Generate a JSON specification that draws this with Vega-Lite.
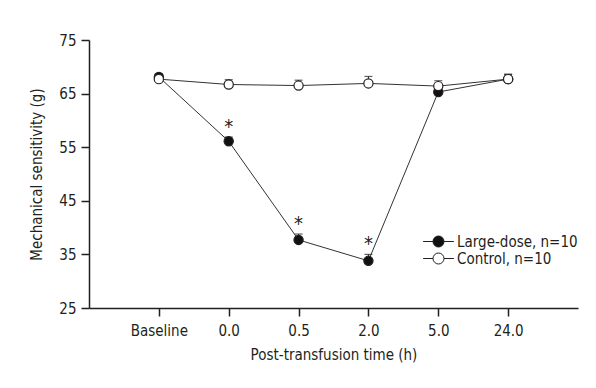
{
  "$schema": "https://vega.github.io/schema/vega-lite/v6.json",
  "autosize": "none",
  "width": 489,
  "height": 268,
  "padding": {"left": 89, "top": 40, "right": 18, "bottom": 80},
  "background": "white",
  "config": {
    "view": {"stroke": null},
    "font": "DejaVu Sans Condensed, Roboto Condensed, Roboto, sans-serif",
    "axis": {"labelFont": "DejaVu Sans Condensed, Roboto Condensed, Roboto, sans-serif", "titleFont": "DejaVu Sans Condensed, Roboto Condensed, Roboto, sans-serif", "labelFontSize": 15, "titleFontSize": 15, "titleFontWeight": "normal", "labelColor": "#231f20", "titleColor": "#231f20", "domainColor": "#231f20", "tickColor": "#231f20", "domainWidth": 1.5, "tickWidth": 1.5, "tickSize": 8, "grid": false},
    "legend": {"labelFont": "DejaVu Sans Condensed, Roboto Condensed, Roboto, sans-serif", "labelFontSize": 15, "labelColor": "#231f20"}
  },
  "data": {"values": [
    {"time": "Baseline", "group": "Large-dose, n=10", "mean": 68.1, "upper": 68.7, "star": ""},
    {"time": "0.0", "group": "Large-dose, n=10", "mean": 56.1, "upper": 56.9, "star": "*"},
    {"time": "0.5", "group": "Large-dose, n=10", "mean": 37.7, "upper": 38.8, "star": "*"},
    {"time": "2.0", "group": "Large-dose, n=10", "mean": 33.8, "upper": 35.0, "star": "*"},
    {"time": "5.0", "group": "Large-dose, n=10", "mean": 65.3, "upper": 66.3, "star": ""},
    {"time": "24.0", "group": "Large-dose, n=10", "mean": 67.7, "upper": 68.6, "star": ""},
    {"time": "Baseline", "group": "Control, n=10", "mean": 67.7, "upper": 68.5, "star": ""},
    {"time": "0.0", "group": "Control, n=10", "mean": 66.7, "upper": 67.6, "star": ""},
    {"time": "0.5", "group": "Control, n=10", "mean": 66.5, "upper": 67.5, "star": ""},
    {"time": "2.0", "group": "Control, n=10", "mean": 66.9, "upper": 68.2, "star": ""},
    {"time": "5.0", "group": "Control, n=10", "mean": 66.4, "upper": 67.4, "star": ""},
    {"time": "24.0", "group": "Control, n=10", "mean": 67.7, "upper": 68.6, "star": ""}
  ]},
  "encoding": {
    "x": {"field": "time", "type": "ordinal", "sort": null, "scale": {"type": "point", "padding": 1},
      "axis": {"title": "Post-transfusion time (h)", "labelAngle": 0, "labelPadding": 7, "titlePadding": 9}}
  },
  "layer": [
    {
      "mark": {"type": "rule", "color": "#231f20", "strokeWidth": 1},
      "encoding": {"y": {"field": "mean", "type": "quantitative"}, "y2": {"field": "upper"}, "detail": {"field": "group"}}
    },
    {
      "mark": {"type": "tick", "orient": "horizontal", "color": "#231f20", "size": 8, "thickness": 1.2},
      "encoding": {"y": {"field": "upper", "type": "quantitative"}}
    },
    {
      "mark": {"type": "line", "color": "#333333", "strokeWidth": 1},
      "encoding": {
        "y": {"field": "mean", "type": "quantitative",
          "scale": {"domain": [25, 75], "nice": false, "zero": false},
          "axis": {"title": "Mechanical sensitivity (g)", "values": [25, 35, 45, 55, 65, 75], "labelPadding": 5, "titlePadding": 14}},
        "detail": {"field": "group"}
      }
    },
    {
      "mark": {"type": "point", "filled": true, "stroke": "#231f20", "strokeWidth": 1.2, "size": 85, "opacity": 1},
      "encoding": {
        "y": {"field": "mean", "type": "quantitative"},
        "fill": {"field": "group", "type": "nominal", "sort": null,
          "scale": {"domain": ["Large-dose, n=10", "Control, n=10"], "range": ["#111111", "#ffffff"]},
          "legend": {"title": null, "orient": "none", "legendX": 342, "legendY": 194,
            "symbolType": "M-2.8,0L-1,0M1,0L2.8,0M-1,0A1,1 0 1,0 1,0A1,1 0 1,0 -1,0Z",
            "symbolSize": 121, "symbolStrokeColor": "#231f20", "symbolStrokeWidth": 1, "symbolOpacity": 1,
            "labelOffset": 11, "rowPadding": 1}}
      }
    },
    {
      "mark": {"type": "text", "fontSize": 20, "color": "#231f20", "baseline": "middle", "dy": -10},
      "encoding": {"y": {"field": "upper", "type": "quantitative"}, "text": {"field": "star"}}
    }
  ]
}
